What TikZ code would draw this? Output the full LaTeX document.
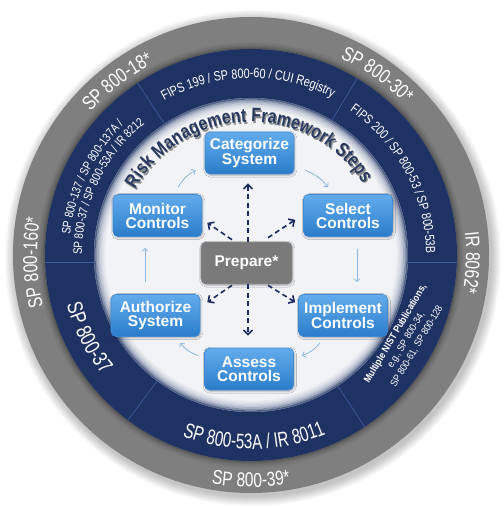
\documentclass[tikz,border=0pt]{standalone}
\usepackage{fontspec}
\setmainfont{Liberation Sans}
\newfontfamily\narrowA[FakeStretch=0.8]{Liberation Sans}
\newfontfamily\narrowB[FakeStretch=0.78]{Liberation Sans}
\newfontfamily\narrowC[FakeStretch=0.72]{Liberation Sans}
\newfontfamily\narrowD[FakeStretch=0.88]{Liberation Sans}
\newfontfamily\titlefamily[FakeStretch=0.82]{Liberation Sans}
\usetikzlibrary{decorations.text,arrows.meta,shadows.blur}
\definecolor{navy}{HTML}{1F3264}
\definecolor{divblue}{HTML}{3D5C9C}
\definecolor{ringgray}{HTML}{7F7F7F}
\definecolor{innerbg}{HTML}{F1F3F6}
\definecolor{titlecol}{HTML}{2A3B62}
\definecolor{boxtop}{HTML}{62ACEC}
\definecolor{boxbot}{HTML}{2A7DCB}
\definecolor{boxedge}{HTML}{3F8AD2}
\definecolor{prepgray}{HTML}{7A7A7A}
\definecolor{prepedge}{HTML}{8E8E8E}
\definecolor{dasharrow}{HTML}{1B2A5E}
\definecolor{flowblue}{HTML}{8AB6E0}
\newcommand\cwtext[6]{% color, start, end, radius, font, text
  \path[decorate,decoration={text along path,text align=center,text color=#1,text={|#5|#6}}]
    (#2:#4) arc[start angle=#2, end angle=#3, radius=#4];}
\tikzset{
  stepbox/.style={rectangle, rounded corners=5pt, minimum width=89pt, minimum height=42pt,
    inner sep=0pt, top color=boxtop, bottom color=boxbot, draw=boxedge, line width=0.6pt,
    text=white, align=center, font=\bfseries\fontsize{15.5}{14}\selectfont,
    blur shadow={shadow blur steps=6, shadow xshift=0.8pt, shadow yshift=-1.2pt, shadow blur radius=2pt, shadow opacity=30}},
  prepbox/.style={stepbox, top color=prepgray, bottom color=prepgray, draw=prepedge, minimum width=91pt},
  flow/.style={draw=flowblue, line width=0.8pt, -{Straight Barb[length=3pt,width=6pt]}},
  prepline/.style={draw=dasharrow, line width=1.6pt, dash pattern=on 5pt off 3.5pt,
    -{Straight Barb[length=4.5pt,width=9pt]}},
  divider/.style={draw=divblue, line width=0.7pt}
}
\begin{document}
\begin{tikzpicture}[x=1pt,y=1pt]
\useasboundingbox (-251,-253) rectangle (252,255);
\fill[white] (-251,-253) rectangle (252,255);
% outer soft shadow
\foreach \k in {1,...,10} {\fill[black,opacity=0.025] (2,-3) circle ({238+\k});}
% gray ring
\fill[ringgray] (0,0) circle (238);
\foreach \k/\o in {0/0.30,1/0.22,2/0.15,3/0.10,4/0.06,5/0.03} {\draw[black,opacity=\o,line width=1.2pt] (0,0) circle ({206.6+1.2*\k});}
% blue ring
\fill[navy] (0,0) circle (206);
% inner circle
\fill[innerbg] (0,0) circle (157);
\foreach \k/\o in {0/0.75,1/0.5,2/0.33,3/0.22,4/0.14,5/0.08,6/0.04} {\draw[navy,opacity=\o,line width=1.6pt] (0,0) circle ({156.2-1.6*\k});}
% dividers
\foreach \a in {59,123.4,233.3,303.5} {\draw[divider] (\a:157.5) -- (\a:206);}
\draw[divider] (-206,-7.5) -- (-157.3,-7.5);
\draw[divider] (157.3,-7.5) -- (206,-7.5);
% gray ring texts
\cwtext{white}{157.6}{97.6}{215}{\narrowB\fontsize{20}{22}\selectfont}{SP 800-18*}
\cwtext{white}{85}{25}{216}{\narrowB\fontsize{20}{22}\selectfont}{SP 800-30*}
\cwtext{white}{28}{-32}{215}{\narrowB\fontsize{20}{22}\selectfont}{IR 8062*}
\cwtext{white}{212}{152}{214}{\narrowB\fontsize{20}{22}\selectfont}{SP 800-160*}
\cwtext{white}{240}{300}{232}{\narrowB\fontsize{20}{22}\selectfont}{SP 800-39*}
% blue ring texts
\cwtext{white}{141}{41}{177}{\narrowA\fontsize{13.5}{15}\selectfont}{FIPS 199 / SP 800-60 / CUI Registry}
\cwtext{white}{73}{-17}{175}{\narrowA\fontsize{13.2}{15}\selectfont}{FIPS 200 / SP 800-53 / SP 800-53B}
\cwtext{white}{194}{114}{182}{\narrowA\fontsize{12.3}{14}\selectfont}{SP 800-137 / SP 800-137A /}
\cwtext{white}{194.5}{114.5}{169}{\narrowA\fontsize{12.3}{14}\selectfont}{SP 800-37 / SP 800-53A / IR 8212}
\cwtext{white}{177}{237}{191}{\narrowB\fontsize{21.5}{23}\selectfont}{SP 800-37}
\cwtext{white}{226}{316}{194}{\narrowC\fontsize{21}{23}\selectfont}{SP 800-53A / IR 8011}
\node[rotate=59.4, align=center, text=white, inner sep=0pt,
  font=\narrowD\fontsize{10}{12.5}\selectfont] (pubs) at (155,-85)
  {{\bfseries Multiple NIST Publications,}\\e.g., SP 800-34,\\SP 800-61, SP 800-128};
% title with shadow
\begin{scope}[shift={(1.2,-1.8)}]
\cwtext{black!45}{161.5}{21.5}{133}{\titlefamily\bfseries\fontsize{19.5}{21}\selectfont}{Risk Management Framework Steps}
\end{scope}
\cwtext{titlecol}{161.5}{21.5}{133}{\titlefamily\bfseries\fontsize{19.5}{21}\selectfont}{Risk Management Framework Steps}
% steps
\node[stepbox] (cat) at (-1.5,102) {Categorize\\System};
\node[stepbox] (mon) at (-93.5,39.5) {Monitor\\Controls};
\node[stepbox] (sel) at (97,39.5) {Select\\Controls};
\node[prepbox] (prep) at (-4.5,-8) {Prepare*};
\node[stepbox] (aut) at (-95.5,-60.5) {Authorize\\System};
\node[stepbox] (imp) at (92,-60.5) {Implement\\Controls};
\node[stepbox] (ass) at (-2,-114) {Assess\\Controls};
% cycle arrows
\draw[flow] ([xshift=20.5pt,yshift=7pt]mon.north) to[bend left=15] ([xshift=-9pt,yshift=4pt]cat.south west);
\draw[flow] ([xshift=11pt,yshift=4pt]cat.south east) to[bend left=15] ([xshift=-20pt,yshift=7pt]sel.north);
\draw[flow] ([xshift=9pt,yshift=-12pt]sel.south) -- ([xshift=14pt,yshift=12pt]imp.north);
\draw[flow] ([xshift=-23pt,yshift=-6pt]imp.south) to[bend left=15] ([xshift=8pt,yshift=-8pt]ass.north east);
\draw[flow] ([xshift=-6pt,yshift=-8pt]ass.north west) to[bend left=15] ([xshift=24.5pt,yshift=-6pt]aut.south);
\draw[flow] ([xshift=-10.5pt,yshift=12pt]aut.north) -- ([xshift=-12.5pt,yshift=-11pt]mon.south);
% prepare arrows
\draw[prepline] ([xshift=1.5pt]prep.north) -- ([xshift=-1.5pt,yshift=-9pt]cat.south);
\draw[prepline] ([xshift=1.5pt]prep.south) -- ([xshift=-1pt,yshift=12pt]ass.north);
\draw[prepline] ([xshift=-14.5pt,yshift=2pt]prep.north) -- ([xshift=5pt,yshift=14pt]mon.south east);
\draw[prepline] ([xshift=21.5pt,yshift=4pt]prep.north) -- ([xshift=-8pt,yshift=17pt]sel.south west);
\draw[prepline] ([xshift=-14.5pt,yshift=-1pt]prep.south) -- ([xshift=7pt,yshift=-8pt]aut.north east);
\draw[prepline] ([xshift=21.5pt,yshift=-1pt]prep.south) -- ([xshift=-3pt,yshift=-8pt]imp.north west);
\end{tikzpicture}
\end{document}
